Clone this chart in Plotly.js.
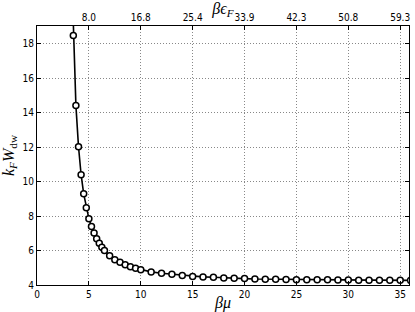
<!DOCTYPE html>
<html>
<head>
<meta charset="utf-8">
<script src="https://cdn.plot.ly/plotly-3.0.1.min.js"></script>
<style>html,body{margin:0;padding:0;background:#fff;}#chart{width:415px;height:312px;}</style>
</head>
<body>
<div id="chart"></div>
<script>
// beta*mu values
var betaMu = [3.25, 3.5, 3.75, 4.0, 4.25, 4.5, 4.75, 5.0, 5.25, 5.5, 5.75, 6.0, 6.25, 6.5,
  7.0, 7.5, 8.0, 8.5, 9.0, 9.5, 10, 11, 12, 13, 14, 15, 16, 17, 18, 19, 20,
  21, 22, 23, 24, 25, 26, 27, 28, 29, 30, 31, 32, 33, 34, 35, 36];
// k_F W_dw values
var kfWdw = [24.0, 18.48, 14.41, 12.02, 10.40, 9.29, 8.49, 7.85, 7.39, 7.02, 6.69, 6.42, 6.19, 6.0,
  5.70, 5.47, 5.32, 5.18, 5.06, 4.97, 4.89, 4.76, 4.68, 4.62, 4.55, 4.50, 4.47, 4.45, 4.41, 4.39, 4.37,
  4.35, 4.34, 4.33, 4.32, 4.31, 4.31, 4.30, 4.30, 4.29, 4.29, 4.28, 4.28, 4.28, 4.27, 4.27, 4.27];
// top axis (beta*eps_F) tick positions and labels
var topTickVals = [5, 10, 15, 20, 25, 30, 35];
var topTickText = ['8.0', '16.8', '25.4', '33.9', '42.3', '50.8', '59.3'];
var bottomTickVals = [0, 5, 10, 15, 20, 25, 30, 35];
var yTickVals = [4, 6, 8, 10, 12, 14, 16, 18];

var xRange = [0, 35.85];
var tickFont = {family: 'DejaVu Sans Condensed, DejaVu Sans, sans-serif', size: 10, color: '#000'};
var titleFont = {family: 'Liberation Serif, serif', size: 16, color: '#000'};
var gridDash = '1px,2px';

var data = [{
  x: betaMu, y: kfWdw, type: 'scatter', mode: 'lines+markers',
  line: {color: '#000', width: 1.6},
  marker: {symbol: 'circle', size: 6, color: '#fff', line: {color: '#000', width: 1.5}},
  cliponaxis: true, showlegend: false, hoverinfo: 'none'
}, {
  x: topTickVals, y: topTickVals.map(function(){return null;}), xaxis: 'x2', yaxis: 'y',
  type: 'scatter', mode: 'markers', showlegend: false, hoverinfo: 'none'
}];

var layout = {
  width: 415, height: 312,
  margin: {l: 37, r: 5.5, t: 26, b: 27},
  paper_bgcolor: '#fff', plot_bgcolor: '#fff',
  showlegend: false,
  xaxis: {
    range: xRange, tickvals: bottomTickVals, ticks: 'inside', ticklen: 4, tickcolor: '#000',
    showline: true, linecolor: '#000', linewidth: 1, zeroline: false,
    showgrid: true, gridcolor: '#888', griddash: gridDash, gridwidth: 1,
    tickfont: tickFont, ticklabelstandoff: 0,
    title: {text: '<i>βμ</i>', font: titleFont, standoff: 5}
  },
  xaxis2: {
    range: xRange, overlaying: 'x', side: 'top', anchor: 'y',
    tickvals: topTickVals, ticktext: topTickText, ticks: 'inside', ticklen: 4, tickcolor: '#000',
    showline: true, linecolor: '#000', linewidth: 1, zeroline: false, showgrid: false,
    tickfont: tickFont, ticklabelstandoff: 0,
    title: {text: '<i>βϵ</i><sub><i>F</i></sub>', font: titleFont, standoff: 2}
  },
  yaxis: {
    range: [4, 19.03], tickvals: yTickVals, ticks: 'inside', ticklen: 4, tickcolor: '#000',
    showline: true, linecolor: '#000', linewidth: 1, mirror: 'ticks', zeroline: false,
    showgrid: true, gridcolor: '#888', griddash: gridDash, gridwidth: 1,
    tickfont: tickFont, ticklabelstandoff: 0,
    title: {text: '<i>k</i><sub><i>F</i></sub><i>W</i><sub>dw</sub>', font: titleFont, standoff: 4}
  }
};

Plotly.newPlot('chart', data, layout, {staticPlot: true, displayModeBar: false});
</script>
</body>
</html>
